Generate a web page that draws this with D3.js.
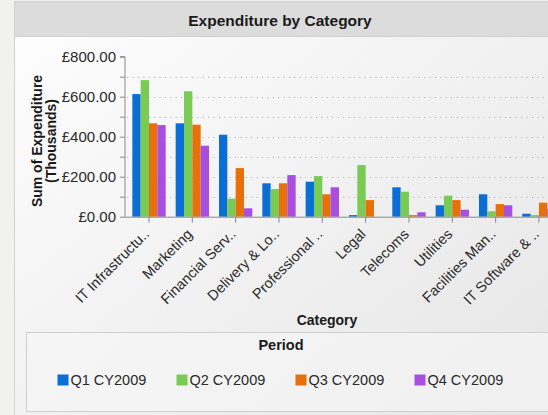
<!DOCTYPE html>
<html><head><meta charset="utf-8">
<script src="https://cdn.jsdelivr.net/npm/d3@7"></script>
<style>
html,body{margin:0;padding:0;background:#f1f1ed;overflow:hidden;}
svg{display:block;font-family:"Liberation Sans",Arial,sans-serif;}
</style></head>
<body>
<svg id="c" width="548" height="415"></svg>
<script>
const categories = ["IT Infrastructu..","Marketing","Financial Serv..","Delivery & Lo..","Professional ..","Legal","Telecoms","Utilities","Facilities Man..","IT Software & .."];
const periods = ["Q1 CY2009","Q2 CY2009","Q3 CY2009","Q4 CY2009"];
const q1 = [613, 467, 410, 167, 175, 8, 147, 57, 112, 15];
const q2 = [683, 627, 90, 138, 203, 258, 125, 105, 27, 8];
const q3 = [467, 460, 243, 167, 112, 83, 8, 83, 63, 70];
const q4 = [458, 355, 42, 208, 147, 0, 22, 35, 57, 40];
const yTicks = [0, 200, 400, 600, 800];
const colors = ["#0b6dd6", "#79cb55", "#e8700c", "#a84ee0"];
const series = [q1, q2, q3, q4];

const svg = d3.select("#c");
const defs = svg.append("defs");
const g1 = defs.append("linearGradient").attr("id","bg").attr("x1","0").attr("y1","0").attr("x2","1").attr("y2","1");
g1.append("stop").attr("offset","0").attr("stop-color","#fefefe");
g1.append("stop").attr("offset","1").attr("stop-color","#e4e4e4");

// outer panel
svg.append("rect").attr("x",14.5).attr("y",1.5).attr("width",560).attr("height",440)
  .attr("fill","url(#bg)").attr("stroke","#d2d2d2");
// title band
svg.append("rect").attr("x",15).attr("y",2).attr("width",560).attr("height",34).attr("fill","#dcdcdc");
svg.append("line").attr("x1",15).attr("x2",575).attr("y1",36.5).attr("y2",36.5).attr("stroke","#d0d0d0");
svg.append("text").attr("x",280).attr("y",26).attr("text-anchor","middle")
  .attr("font-size","15.5px").attr("font-weight","bold").attr("fill","#1a1a1a").text("Expenditure by Category");

const y = d3.scaleLinear().domain([0, 800]).range([216.7, 56.7]);
const x = d3.scaleBand().domain(categories).range([127.33, 127.33 + 43.33*categories.length]).paddingInner(0.2308).paddingOuter(0.1154);
const xs = d3.scaleBand().domain(periods).range([0, x.bandwidth()]);
const axisX0 = 125;
const plotRight = 600;

// dotted gridlines
const grid = d3.range(100, 800, 100);
svg.append("g").selectAll("line").data(grid).join("line")
  .attr("x1", axisX0+2).attr("x2", plotRight).attr("y1", d=>Math.round(y(d))+0.5).attr("y2", d=>Math.round(y(d))+0.5)
  .attr("stroke","#b8b8b8").attr("stroke-width",1).attr("stroke-dasharray","1.2,4.2");

// bars
const gb = svg.append("g");
categories.forEach((c, i) => {
  series.forEach((s, j) => {
    const v = s[i];
    if (v <= 0) return;
    gb.append("rect").attr("x", x(c) + xs(periods[j])).attr("y", y(v))
      .attr("width", xs.bandwidth()).attr("height", y(0) - y(v)).attr("fill", colors[j]);
  });
});

// y axis
const yAxis = d3.axisLeft(y).tickValues(d3.range(0, 900, 100)).tickSize(5).tickPadding(4)
  .tickFormat(d => yTicks.includes(d) ? "£" + d3.format(",.2f")(d) : "");
const ya = svg.append("g").attr("transform", `translate(${axisX0},0)`).call(yAxis);
ya.select(".domain").attr("stroke","#8a8a8a").attr("d", `M-5,${y(800)}H0V${y(0)}`);
ya.selectAll(".tick line").attr("stroke","#8a8a8a");
ya.selectAll(".tick text").attr("font-size","15px").attr("fill","#2a2a2a").attr("font-family","Liberation Sans, Arial, sans-serif");

// x axis
const xAxis = d3.axisBottom(x).tickSize(6).tickFormat("");
const xa = svg.append("g").attr("transform", `translate(0,${y(0)})`).call(xAxis);
xa.select(".domain").attr("stroke","#8a8a8a").attr("d", `M${axisX0},0.5H${plotRight}`);
xa.selectAll(".tick line").attr("stroke","#8a8a8a");
svg.append("g").selectAll("text").data(categories).join("text")
  .attr("transform", d => `translate(${x(d) + x.bandwidth()/2 + 1},${235}) rotate(-45)`)
  .attr("text-anchor","end").attr("font-size","14.5px").attr("fill","#2a2a2a").text(d => d);

// axis titles
const yt = svg.append("text").attr("transform","translate(42,141) rotate(-90)").attr("text-anchor","middle")
  .attr("font-size","14px").attr("font-weight","bold").attr("fill","#1a1a1a");
yt.append("tspan").attr("x",0).attr("dy",0).text("Sum of Expenditure");
yt.append("tspan").attr("x",0).attr("dy","1.0em").text("(Thousands)");
svg.append("text").attr("x",327).attr("y",325).attr("text-anchor","middle")
  .attr("font-size","14px").attr("font-weight","bold").attr("fill","#1a1a1a").text("Category");

// legend
svg.append("rect").attr("x",26.5).attr("y",332.5).attr("width",560).attr("height",79)
  .attr("fill","#f6f6f6").attr("fill-opacity",0.6).attr("stroke","#cfcfcf");
svg.append("text").attr("x",281).attr("y",350).attr("text-anchor","middle")
  .attr("font-size","14.5px").attr("font-weight","bold").attr("fill","#1a1a1a").text("Period");
const lg = svg.append("g").selectAll("g").data(periods).join("g")
  .attr("transform", (d,i) => `translate(${57.5 + i*119},374.5)`);
lg.append("rect").attr("width",11).attr("height",11).attr("fill",(d,i)=>colors[i]);
lg.append("text").attr("x",13).attr("y",10.5).attr("font-size","14.5px").attr("fill","#2a2a2a").text(d=>d);
</script>
</body></html>
